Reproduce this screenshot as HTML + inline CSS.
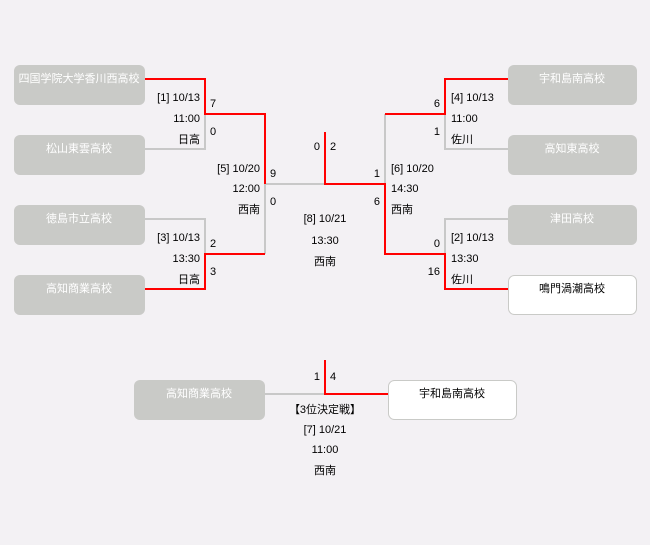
<!DOCTYPE html>
<html><head><meta charset="utf-8"><style>
html,body{margin:0;padding:0;background:#f3f1f4;}
svg{display:block;}
text{font-family:"Liberation Sans","Noto Sans CJK JP",sans-serif;font-size:11px;fill:#000;}
.w{fill:#fff;}
</style></head><body>
<svg width="650" height="545" viewBox="0 0 650 545">
<rect width="650" height="545" fill="#f3f1f4"/>
<g fill="#c9cac7">
<rect x="14" y="65" width="131" height="40" rx="6"/>
<rect x="14" y="135" width="131" height="40" rx="6"/>
<rect x="14" y="205" width="131" height="40" rx="6"/>
<rect x="14" y="275" width="131" height="40" rx="6"/>
<rect x="508" y="65" width="129" height="40" rx="6"/>
<rect x="508" y="135" width="129" height="40" rx="6"/>
<rect x="508" y="205" width="129" height="40" rx="6"/>
<rect x="134" y="380" width="131" height="40" rx="6"/>
</g>
<rect x="508.5" y="275.5" width="128" height="39" rx="6" fill="#fff" stroke="#c9cac7"/>
<rect x="388.5" y="380.5" width="128" height="39" rx="6" fill="#fff" stroke="#c9cac7"/>
<g fill="none" stroke-width="2">
<g stroke="#c8c8c8">
<polyline points="145,149 205,149 205,114"/>
<polyline points="145,219 205,219 205,254"/>
<polyline points="265,184 265,254"/>
<polyline points="265,184 325,184"/>
<polyline points="385,184 385,114"/>
<polyline points="508,149 445,149 445,114"/>
<polyline points="508,219 445,219 445,254"/>
<polyline points="265,394 325,394"/>
</g>
<g stroke="#ff0000">
<polyline points="145,79 205,79 205,114 265,114 265,184"/>
<polyline points="145,289 205,289 205,254 265,254"/>
<polyline points="325,132 325,184 385,184 385,254 445,254 445,289 508,289"/>
<polyline points="385,114 445,114 445,79 508,79"/>
<polyline points="325,360 325,394 388,394"/>
</g>
</g>
<g class="w" text-anchor="middle">
<text class="w" x="79" y="82">四国学院大学香川西高校</text>
<text class="w" x="79" y="152">松山東雲高校</text>
<text class="w" x="79" y="222">徳島市立高校</text>
<text class="w" x="79" y="292">高知商業高校</text>
<text class="w" x="572" y="82">宇和島南高校</text>
<text class="w" x="572" y="152">高知東高校</text>
<text class="w" x="572" y="222">津田高校</text>
<text x="572" y="292">鳴門渦潮高校</text>
<text class="w" x="199" y="397">高知商業高校</text>
<text x="452" y="397">宇和島南高校</text>
</g>
<g text-anchor="end">
<text x="200" y="101">[1] 10/13</text><text x="200" y="122">11:00</text><text x="200" y="143">日高</text>
<text x="260" y="172">[5] 10/20</text><text x="260" y="192">12:00</text><text x="260" y="213">西南</text>
<text x="200" y="241">[3] 10/13</text><text x="200" y="262">13:30</text><text x="200" y="283">日高</text>
<text x="440" y="107">6</text><text x="440" y="135">1</text>
<text x="380" y="177">1</text><text x="380" y="205">6</text>
<text x="440" y="247">0</text><text x="440" y="275">16</text>
<text x="320" y="150">0</text><text x="320" y="380">1</text>
</g>
<g>
<text x="210" y="107">7</text><text x="210" y="135">0</text>
<text x="270" y="177">9</text><text x="270" y="205">0</text>
<text x="210" y="247">2</text><text x="210" y="275">3</text>
<text x="330" y="150">2</text><text x="330" y="380">4</text>
<text x="451" y="101">[4] 10/13</text><text x="451" y="122">11:00</text><text x="451" y="143">佐川</text>
<text x="391" y="172">[6] 10/20</text><text x="391" y="192">14:30</text><text x="391" y="213">西南</text>
<text x="451" y="241">[2] 10/13</text><text x="451" y="262">13:30</text><text x="451" y="283">佐川</text>
</g>
<g text-anchor="middle">
<text x="325" y="222">[8] 10/21</text><text x="325" y="244">13:30</text><text x="325" y="265">西南</text>
<text x="325" y="413">【3位決定戦】</text><text x="325" y="433">[7] 10/21</text><text x="325" y="453">11:00</text><text x="325" y="474">西南</text>
</g>
</svg>
</body></html>
